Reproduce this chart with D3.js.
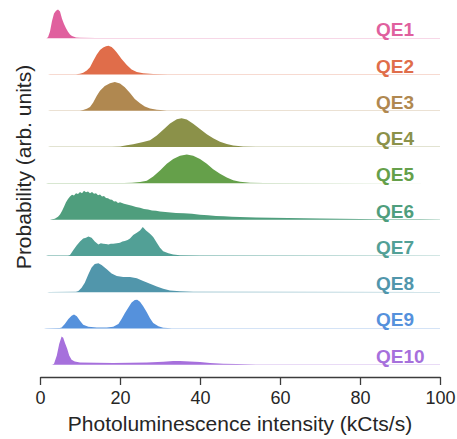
<!DOCTYPE html>
<html>
<head>
<script src="https://d3js.org/d3.v7.min.js"></script>
<style>
body { margin: 0; background: #fff; }
text { font-family: "Liberation Sans", Arial, sans-serif; }
</style>
</head>
<body>
<svg width="457" height="439"></svg>
<script>
// categories and colours
const names = ["QE1","QE2","QE3","QE4","QE5","QE6","QE7","QE8","QE9","QE10"];
const colors = ["#e0609e","#e06d4a","#b08850","#8b9149","#65a04a","#4f9e7d","#52a096","#5196ab","#5591dc","#a670dc"];
const xTicks = [0, 20, 40, 60, 80, 100];

// histogram outlines: [intensity kCts/s, relative probability]
const qe1 = [[1.6,0],[2,0.04],[2.5,0.24],[3,0.6],[3.5,0.86],[4,0.96],[4.5,1.0],[5,0.93],[5.5,0.68],[6,0.5],[6.5,0.35],[7,0.23],[7.5,0.13],[8,0.08],[8.5,0.05],[9,0.03],[10,0.016],[14,0.01],[100,0.008]];
const qe2 = [[2,0],[2.5,0.01],[9,0.012],[10,0.03],[10.8,0.06],[11.7,0.14],[12.5,0.25],[13.3,0.47],[14.2,0.7],[15,0.85],[15.8,0.94],[16.5,0.98],[17.1,1.0],[17.9,0.96],[18.5,0.88],[19.2,0.77],[20.4,0.54],[21.7,0.33],[22.9,0.18],[24.2,0.09],[25.8,0.045],[28.3,0.02],[32,0.01],[100,0.008]];
const qe3 = [[2,0],[2.5,0.01],[10,0.012],[10.8,0.03],[11.7,0.07],[12.5,0.13],[13.3,0.29],[14.2,0.52],[15,0.7],[16.2,0.86],[17.5,0.96],[18.7,1.0],[20,0.95],[21.2,0.82],[22.5,0.62],[23.7,0.41],[25,0.26],[26.2,0.15],[27.5,0.08],[29.2,0.035],[31.7,0.014],[100,0.008]];
const qe4 = [[2,0],[2.5,0.01],[18,0.012],[20,0.025],[21.7,0.06],[23.3,0.1],[25.8,0.18],[27.5,0.24],[29.2,0.4],[30.8,0.6],[32.5,0.82],[34.2,0.97],[35.4,1.0],[36.7,0.96],[38.3,0.81],[40,0.63],[41.7,0.45],[43.3,0.31],[45,0.19],[46.7,0.11],[48.3,0.055],[50.8,0.025],[54,0.013],[100,0.008]];
const qe5 = [[1.5,0],[2,0.01],[21,0.012],[23,0.025],[25,0.045],[26.7,0.09],[28.3,0.24],[30,0.45],[31.7,0.68],[33.3,0.85],[35,0.96],[36.7,1.0],[38.3,0.96],[40,0.85],[41.7,0.68],[43.3,0.49],[45,0.33],[46.7,0.2],[48.3,0.11],[50,0.055],[52.5,0.025],[56,0.012],[100,0.008]];
const qe6 = [[2.5,0],[3,0.01],[3.7,0.03],[4.5,0.1],[5,0.18],[5.5,0.3],[6,0.45],[6.5,0.6],[7,0.72],[7.5,0.8],[8,0.86],[8.5,0.84],[9,0.92],[9.5,0.89],[10,0.96],[10.5,0.92],[11,1.0],[11.5,0.95],[12,0.98],[12.5,0.92],[13,0.96],[13.5,0.9],[14,0.92],[14.5,0.85],[15,0.87],[15.5,0.8],[16,0.82],[16.5,0.75],[17,0.74],[17.5,0.7],[18,0.69],[18.5,0.63],[19,0.64],[19.5,0.58],[20,0.6],[21,0.55],[22,0.52],[23,0.48],[24,0.44],[25,0.41],[26,0.37],[27,0.35],[28,0.32],[29,0.31],[30,0.28],[32,0.26],[34,0.23],[36,0.22],[38,0.2],[40,0.17],[42,0.15],[44,0.13],[46,0.12],[48,0.1],[50,0.09],[54,0.075],[58,0.065],[62,0.055],[66,0.05],[70,0.04],[75,0.03],[80,0.022],[85,0.017],[90,0.013],[95,0.01],[100,0.008]];
const qe7 = [[1.5,0],[2,0.01],[7,0.013],[7.5,0.03],[8.3,0.2],[9.2,0.37],[10,0.5],[10.8,0.6],[11.5,0.63],[12.1,0.67],[12.9,0.63],[13.7,0.5],[14.6,0.4],[15.2,0.44],[15.8,0.42],[16.5,0.41],[17.1,0.4],[17.7,0.42],[18.3,0.42],[19.2,0.44],[20,0.46],[20.6,0.5],[21.2,0.52],[21.9,0.55],[22.5,0.6],[23.3,0.73],[24.2,0.8],[25,0.88],[25.7,1.0],[26.5,0.88],[27.5,0.77],[28.3,0.66],[29.2,0.46],[30,0.28],[30.8,0.16],[32.1,0.09],[33.3,0.05],[35,0.02],[40,0.01],[100,0.008]];
const qe8 = [[1.8,0],[2.3,0.01],[9,0.013],[9.6,0.04],[10.4,0.15],[11.2,0.33],[12.1,0.62],[12.9,0.86],[13.7,0.98],[14.6,1.0],[15.4,0.94],[16.7,0.8],[17.9,0.65],[19.2,0.56],[20.8,0.53],[22.5,0.53],[24.2,0.48],[25.8,0.39],[27.5,0.29],[29.2,0.2],[30.8,0.12],[32.5,0.06],[35,0.028],[38.3,0.012],[100,0.008]];
const qe9 = [[1,0],[1.5,0.01],[5,0.012],[5.4,0.03],[6.2,0.15],[7.1,0.33],[7.9,0.44],[8.5,0.48],[9.2,0.42],[10,0.27],[10.8,0.13],[12.1,0.06],[14.2,0.035],[16.7,0.035],[18.3,0.06],[19.6,0.15],[20.4,0.33],[21.2,0.53],[22.1,0.73],[22.9,0.9],[23.7,0.99],[24.3,1.0],[25,0.93],[25.8,0.77],[26.7,0.56],[27.5,0.35],[28.3,0.19],[29.6,0.08],[30.8,0.025],[33,0.01],[100,0.008]];
const qe10 = [[2.8,0],[3.2,0.01],[3.5,0.03],[4.2,0.32],[4.8,0.72],[5.4,0.98],[5.8,0.94],[6.2,0.77],[6.8,0.55],[7.3,0.32],[7.9,0.17],[8.7,0.11],[10,0.08],[14.2,0.07],[18.3,0.06],[22.5,0.07],[26.7,0.08],[30.8,0.1],[33.3,0.125],[35,0.125],[37.5,0.11],[40,0.09],[42.5,0.06],[45.8,0.035],[49.2,0.02],[54,0.01],[100,0.008]];

const series = [qe1, qe2, qe3, qe4, qe5, qe6, qe7, qe8, qe9, qe10];

const svg = d3.select("svg");

const x = d3.scaleLinear().domain([0, 100]).range([40, 440]);
const row = d3.scalePoint().domain(names).range([38.3, 364.7]);
const h = d3.scaleLinear().domain([0, 1]).range([0, 28.8]);

names.forEach(function(name, i) {
	const base = row(name);
	const area = d3.area()
		.x(d => x(d[0]))
		.y0(base)
		.y1(d => base - h(d[1]))
		.curve(d3.curveLinear);
	svg.append("path")
		.datum(series[i])
		.attr("fill", colors[i])
		.attr("d", area);
	svg.append("text")
		.attr("x", 376)
		.attr("y", base - 2)
		.attr("fill", colors[i])
		.attr("font-size", 19)
		.attr("font-weight", "bold")
		.text(name);
});

// x axis
const ax = svg.append("g")
	.attr("transform", "translate(0,377)")
	.call(d3.axisBottom(x).tickValues(xTicks).tickSize(8).tickSizeOuter(0));
ax.select(".domain").attr("stroke", "#3c3c3c").attr("stroke-width", 1.3);
ax.selectAll(".tick line").attr("stroke", "#3c3c3c").attr("stroke-width", 1.3);
ax.selectAll(".tick text")
	.attr("fill", "#262626")
	.attr("font-size", 18)
	.attr("font-family", "Liberation Sans, Arial, sans-serif")
	.attr("dy", null)
	.attr("y", 27);

svg.append("text")
	.attr("x", 240)
	.attr("y", 431)
	.attr("text-anchor", "middle")
	.attr("font-size", 21)
	.attr("fill", "#262626")
	.text("Photoluminescence intensity (kCts/s)");

svg.append("text")
	.attr("transform", "translate(31,167) rotate(-90)")
	.attr("text-anchor", "middle")
	.attr("font-size", 21)
	.attr("fill", "#262626")
	.text("Probability (arb. units)");
</script>
</body>
</html>
